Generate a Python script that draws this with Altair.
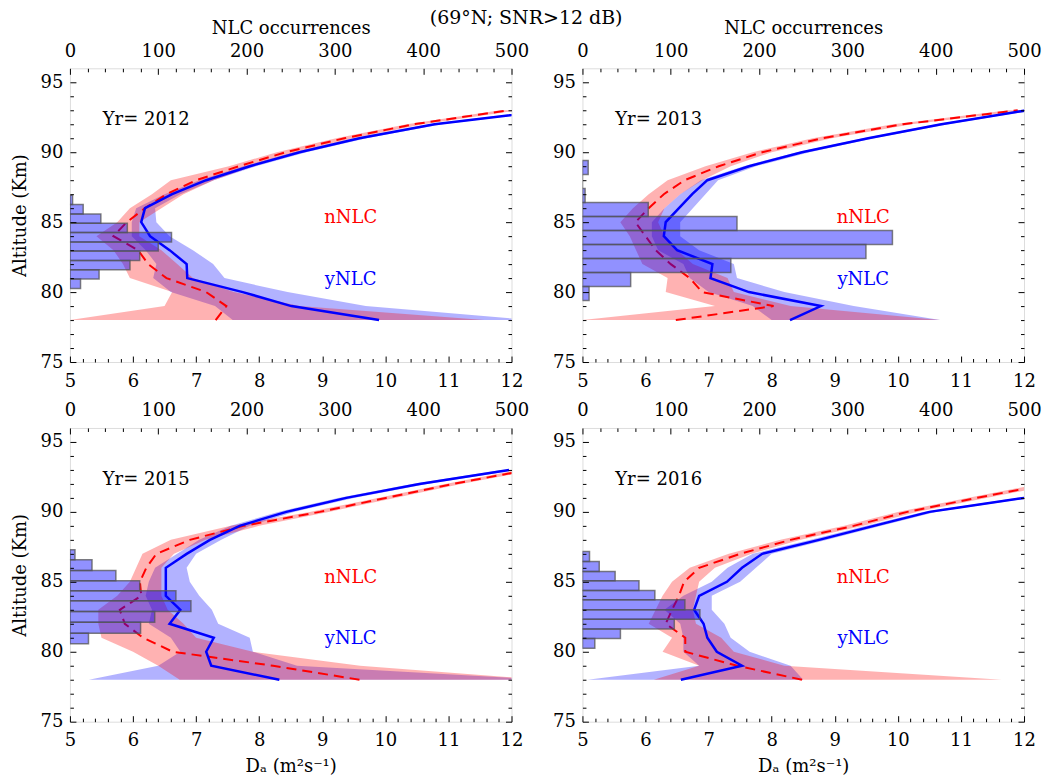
import altair as alt
import pandas as pd

FONT = "DejaVu Serif"

# ---------------- data ----------------
ALT = [78, 79, 80, 81, 82, 83, 84, 85, 86, 87, 88, 89, 90, 91, 92, 93]

# 2012
R12 = [7.31, 7.48, 7.16, 6.53, 6.24, 6.08, 5.69, 5.90, 6.19, 6.53, 7.00, 7.68, 8.42, 9.35, 10.45, 11.95]
R12_LO = [5.00, 6.50, 6.62, 5.95, 5.84, 5.69, 5.42, 5.75, 5.95, 6.30, 6.60, 7.52, 8.28, 9.22, 10.34, 11.82]
R12_HI = [11.57, 8.64, 7.60, 6.95, 6.70, 6.45, 6.10, 6.10, 6.45, 6.80, 7.28, 7.90, 8.58, 9.50, 10.60, 12.10]
B12 = [9.90, 8.51, 7.74, 6.86, 6.85, 6.58, 6.27, 6.13, 6.19, 6.62, 7.16, 7.85, 8.64, 9.59, 10.78, 12.62]
B12_LO = [7.58, 7.30, 6.60, 6.32, 6.37, 6.20, 5.98, 5.98, 6.05, 6.50, 7.05, 7.75, 8.55, 9.50, 10.68, 12.50]
B12_HI = [12.30, 9.69, 8.45, 7.45, 7.27, 6.95, 6.58, 6.37, 6.35, 6.75, 7.28, 7.95, 8.75, 9.70, 10.90, 12.75]
H12_LO = [80.26, 80.93, 81.59, 82.26, 82.93, 83.59, 84.26, 84.93, 85.59, 86.26]
H12_HI = [80.93, 81.59, 82.26, 82.93, 83.59, 84.26, 84.93, 85.59, 86.26, 86.93]
H12_N = [12, 33, 68, 79, 100, 115, 65, 35, 15, 3]

# 2013
R13 = [6.48, 8.03, 6.90, 6.70, 6.40, 6.16, 6.00, 5.84, 6.05, 6.29, 6.62, 7.16, 7.85, 8.80, 10.08, 11.90]
R13_LO = [5.00, 7.10, 6.32, 6.35, 5.95, 5.85, 5.75, 5.60, 5.80, 6.05, 6.35, 6.95, 7.70, 8.65, 9.92, 11.75]
R13_HI = [10.67, 8.30, 7.40, 7.30, 6.75, 6.50, 6.30, 6.20, 6.30, 6.55, 6.90, 7.35, 8.00, 8.95, 10.22, 12.05]
B13 = [8.29, 8.78, 7.64, 7.03, 7.06, 6.50, 6.29, 6.32, 6.53, 6.74, 6.98, 7.64, 8.48, 9.53, 10.69, 12.05]
B13_LO = [8.00, 7.70, 7.00, 6.70, 6.60, 6.20, 6.10, 6.10, 6.30, 6.55, 6.88, 7.55, 8.40, 9.45, 10.60, 11.95]
B13_HI = [10.67, 9.30, 8.20, 7.45, 7.40, 6.85, 6.55, 6.55, 6.75, 6.95, 7.15, 7.75, 8.60, 9.62, 10.80, 12.15]
H13_LO = [79.4, 80.4, 81.4, 82.4, 83.4, 84.4, 85.4, 86.4, 87.4, 88.4]
H13_HI = [80.4, 81.4, 82.4, 83.4, 84.4, 85.4, 86.4, 87.4, 88.4, 89.4]
H13_N = [7.5, 54.6, 168, 321, 351, 175, 74.5, 3, 0, 6.5]

# 2015
R15 = [9.59, 8.22, 6.63, 6.16, 5.87, 5.79, 6.13, 6.11, 6.21, 6.37, 6.90, 7.75, 8.96, 10.01, 11.07, 12.26]
R15_LO = [6.74, 6.40, 6.00, 5.50, 5.45, 5.45, 5.75, 5.95, 6.05, 6.15, 6.60, 7.55, 8.80, 9.88, 10.95, 12.10]
R15_HI = [12.50, 9.60, 7.90, 7.00, 6.80, 6.55, 6.45, 6.45, 6.45, 6.65, 7.15, 8.00, 9.10, 10.15, 11.20, 12.40]
B15 = [8.32, 7.24, 7.16, 7.28, 6.58, 6.75, 6.52, 6.52, 6.52, 6.85, 7.22, 7.69, 8.43, 9.38, 10.54, 11.96]
B15_LO = [5.30, 6.40, 6.75, 6.60, 6.25, 6.30, 6.20, 6.25, 6.35, 6.70, 7.05, 7.55, 8.30, 9.25, 10.42, 11.84]
B15_HI = [12.50, 8.60, 7.90, 7.85, 7.35, 7.25, 7.05, 6.90, 6.85, 7.00, 7.40, 7.85, 8.55, 9.50, 10.66, 12.08]
H15_LO = [80.58, 81.32, 82.11, 82.88, 83.64, 84.36, 85.07, 85.81, 86.57]
H15_HI = [81.32, 82.11, 82.88, 83.64, 84.36, 85.07, 85.81, 86.57, 87.29]
H15_N = [21, 80, 96, 137, 120, 79, 52, 25, 5.7]

# 2016
R16 = [8.48, 7.45, 6.63, 6.63, 6.32, 6.42, 6.53, 6.61, 6.85, 7.50, 8.30, 9.30, 10.15, 11.25, 12.40, 13.60]
R16_LO = [6.13, 6.85, 6.27, 6.42, 6.05, 6.16, 6.27, 6.42, 6.70, 7.32, 8.14, 9.15, 10.00, 11.10, 12.25, 13.40]
R16_HI = [11.65, 8.20, 7.40, 7.20, 6.80, 6.75, 6.80, 6.85, 7.10, 7.68, 8.46, 9.45, 10.30, 11.40, 12.55, 13.80]
B16 = [6.56, 7.53, 7.13, 6.98, 6.92, 6.77, 6.85, 7.29, 7.53, 7.85, 8.75, 9.62, 10.50, 12.00, 13.50, 15.00]
B16_LO = [5.08, 6.85, 6.60, 6.60, 6.55, 6.30, 6.60, 7.05, 7.30, 7.70, 8.62, 9.50, 10.40, 11.88, 13.40, 14.90]
B16_HI = [8.50, 8.30, 7.65, 7.35, 7.25, 7.05, 7.05, 7.50, 7.75, 8.00, 8.88, 9.74, 10.60, 12.10, 13.60, 15.10]
H16_LO = [80.25, 80.94, 81.63, 82.33, 83.00, 83.71, 84.38, 85.07, 85.74, 86.46]
H16_HI = [80.94, 81.63, 82.33, 83.00, 83.71, 84.38, 85.07, 85.74, 86.46, 87.17]
H16_N = [14, 43, 104, 133, 116, 82, 64, 37, 19, 8]

X_MAJOR = [5, 6, 7, 8, 9, 10, 11, 12]
X_MINOR = [round(5 + 0.2 * i, 1) for i in range(36) if i % 5]
C_MAJOR = [0, 100, 200, 300, 400, 500]
C_MINOR = [v for v in range(0, 501, 20) if v % 100]
Y_MAJOR = [75, 80, 85, 90, 95]
Y_MINOR = [v for v in range(76, 96) if v % 5]

W, H = 442, 294


def sx():
    return alt.Scale(domain=[5, 12], nice=False, zero=False)


def sy():
    return alt.Scale(domain=[75, 96], nice=False, zero=False)


def sc():
    return alt.Scale(domain=[0, 500], nice=False, zero=False)


def ax(orient, values, major, labels, title=None, label_pad=8, title_pad=8):
    size = 6 if major else 3.5
    kw = dict(orient=orient, values=values, tickSize=size, offset=-size, domain=False,
              grid=False, labels=labels, ticks=True, tickColor="black", tickWidth=1,
              zindex=3, labelFlush=False, labelOverlap=False)
    if labels:
        kw.update(labelFont=FONT, labelFontSize=18, labelColor="black", labelPadding=label_pad)
    if title:
        kw.update(title=title, titleFont=FONT, titleFontSize=18, titleFontWeight="normal",
                  titleColor="black", titlePadding=title_pad)
    else:
        kw["title"] = None
    return alt.Axis(**kw)


def panel(year, r, rlo, rhi, b, blo, bhi, hlo, hhi, hn, top_title, bottom_title, left_title):
    df = pd.DataFrame(dict(alt=ALT, r=r, rlo=rlo, rhi=rhi, b=b, blo=blo, bhi=bhi))
    hdf = pd.DataFrame(dict(lo=hlo, hi=hhi, n=hn))
    base = alt.Chart(df)

    def Y():
        return alt.Y("alt:Q", scale=sy(), axis=None)

    blue_band = base.mark_area(orient="horizontal", color="#0000ff", opacity=0.3, clip=True).encode(
        x=alt.X("blo:Q", scale=sx(), axis=None), x2="bhi:Q", y=Y())
    red_band = base.mark_area(orient="horizontal", color="#ff0000", opacity=0.3, clip=True).encode(
        x=alt.X("rlo:Q", scale=sx(), axis=None), x2="rhi:Q", y=Y())
    red_line = base.mark_line(color="#ff0000", strokeWidth=2, strokeDash=[10, 6], clip=True).encode(
        x=alt.X("r:Q", scale=sx(), axis=None), y=Y(), order="alt:Q")
    blue_line = base.mark_line(color="#0000ff", strokeWidth=2.5, clip=True).encode(
        x=alt.X("b:Q", scale=sx(), axis=None), y=Y(), order="alt:Q")
    bars = alt.Chart(hdf).mark_rect(color="#0000ff", fillOpacity=0.43, stroke="#555555",
                                    strokeOpacity=0.75, strokeWidth=1.5, clip=True).encode(
        x=alt.X("n:Q", scale=sc(),
                axis=ax("top", C_MAJOR, True, True, "NLC occurrences" if top_title else None,
                        label_pad=8, title_pad=5)),
        x2=alt.X2Datum(0),
        y=alt.Y("lo:Q", scale=sy(), axis=None), y2="hi:Q")

    def text(s, dx, dy, color, align):
        return alt.Chart(pd.DataFrame({"t": [s]})).mark_text(
            font=FONT, fontSize=18, color=color, align=align, baseline="middle").encode(
            text="t:N",
            x=alt.XDatum(dx, scale=sx(), axis=None),
            y=alt.YDatum(dy, scale=sy(), axis=None))

    t_year = text(f"Yr= {year}", 5.52, 92.3, "black", "left")
    t_n = text("nNLC", 9.45, 85.3, "#ff0000", "center")
    t_y = text("yNLC", 9.45, 80.9, "#0000ff", "center")

    def xl(axis, scale):
        return base.mark_point(opacity=0, clip=True).encode(
            x=alt.X("r:Q", scale=scale, axis=axis), y=Y())

    def yl(axis):
        return base.mark_point(opacity=0, clip=True).encode(
            x=alt.X("r:Q", scale=sx(), axis=None),
            y=alt.Y("alt:Q", scale=sy(), axis=axis))

    layers = [
        blue_band, red_band, red_line, blue_line, bars, t_year, t_n, t_y,
        xl(ax("bottom", X_MAJOR, True, True, "Dₐ (m²s⁻¹)" if bottom_title else None,
              label_pad=10, title_pad=8), sx()),
        xl(ax("bottom", X_MINOR, False, False), sx()),
        xl(ax("top", C_MINOR, False, False), sc()),
        yl(ax("left", Y_MAJOR, True, True, "Altitude (Km)" if left_title else None,
              label_pad=7, title_pad=11)),
        yl(ax("left", Y_MINOR, False, False)),
        yl(ax("right", Y_MAJOR, True, False)),
        yl(ax("right", Y_MINOR, False, False)),
    ]
    return alt.layer(*layers).resolve_scale(x="independent", y="independent").properties(
        width=W, height=H)


p12 = panel(2012, R12, R12_LO, R12_HI, B12, B12_LO, B12_HI, H12_LO, H12_HI, H12_N, True, False, True)
p13 = panel(2013, R13, R13_LO, R13_HI, B13, B13_LO, B13_HI, H13_LO, H13_HI, H13_N, True, False, False)
p15 = panel(2015, R15, R15_LO, R15_HI, B15, B15_LO, B15_HI, H15_LO, H15_HI, H15_N, False, True, True)
p16 = panel(2016, R16, R16_LO, R16_HI, B16, B16_LO, B16_HI, H16_LO, H16_HI, H16_N, False, True, False)

chart = alt.concat(p12, p13, p15, p16, columns=2, spacing={"row": 66, "column": 71},
                   bounds="flush").properties(
    title=alt.TitleParams("(69°N; SNR>12 dB)", font=FONT, fontSize=19, fontWeight="normal",
                          color="black", anchor="middle", offset=-9),
    padding={"left": 10, "top": 8, "right": 5, "bottom": 5},
).configure_view(stroke="black", strokeWidth=2).configure(font=FONT, background="white")

chart.save("out.html", embed_options={"renderer": "svg", "actions": False})
